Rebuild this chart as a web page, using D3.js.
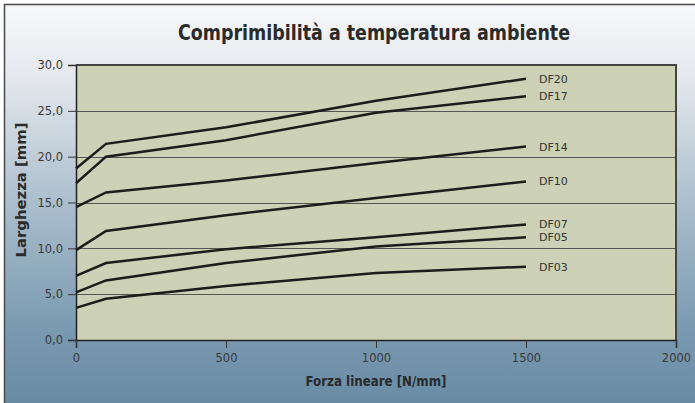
<!DOCTYPE html>
<html><head><meta charset="utf-8">
<script src="https://cdn.jsdelivr.net/npm/d3@7"></script>
<style>html,body{margin:0;padding:0;background:#fff;}svg{display:block;}</style>
</head><body>
<svg id="chart" width="695" height="403"></svg>
<script>
const forces = [0, 100, 500, 1000, 1500];
const seriesNames = ["DF20", "DF17", "DF14", "DF10", "DF07", "DF05", "DF03"];
const df20 = [18.7, 21.4, 23.2, 26.1, 28.5];
const df17 = [17.1, 20.0, 21.8, 24.8, 26.6];
const df14 = [14.5, 16.1, 17.4, 19.3, 21.1];
const df10 = [9.8, 11.9, 13.6, 15.5, 17.3];
const df07 = [7.0, 8.4, 9.9, 11.2, 12.6];
const df05 = [5.2, 6.5, 8.4, 10.2, 11.2];
const df03 = [3.5, 4.5, 5.9, 7.3, 8.0];
const xTicks = [0, 500, 1000, 1500, 2000];
const yTicks = [0, 5, 10, 15, 20, 25, 30];
const titleText = "Comprimibilità a temperatura ambiente";
const xTitle = "Forza lineare [N/mm]";
const yTitle = "Larghezza [mm]";

const series = [df20, df17, df14, df10, df07, df05, df03].map((v, i) => ({name: seriesNames[i], values: v}));

const svg = d3.select("#chart");
const defs = svg.append("defs");
const grad = defs.append("linearGradient").attr("id", "bg").attr("x1", 0).attr("y1", 0).attr("x2", 0).attr("y2", 1);
[["0%", "#f7f8fa"], ["18%", "#e4e8ed"], ["50%", "#a8bccb"], ["80%", "#7999b0"], ["100%", "#6689a2"]].forEach(s => grad.append("stop").attr("offset", s[0]).attr("stop-color", s[1]));

svg.append("rect").attr("x", 4.5).attr("y", 4.5).attr("width", 700).attr("height", 410)
  .attr("fill", "url(#bg)").attr("stroke", "#4a4a4a").attr("stroke-width", 1.5);

const mLeft = 76, mRight = 676, mTop = 65, mBottom = 340;
const x = d3.scaleLinear().domain([0, 2000]).range([mLeft, mRight]);
const y = d3.scaleLinear().domain([0, 30]).range([mBottom, mTop]);

svg.append("rect").attr("x", mLeft).attr("y", mTop).attr("width", mRight - mLeft).attr("height", mBottom - mTop).attr("fill", "#cdd1b5");

// gridlines
svg.append("g").selectAll("line").data(yTicks.filter(d => d > 0 && d < 30)).join("line")
  .attr("x1", mLeft).attr("x2", mRight).attr("y1", d => Math.round(y(d)) + 0.5).attr("y2", d => Math.round(y(d)) + 0.5)
  .attr("stroke", "#555").attr("stroke-width", 1);

// plot border top/right
svg.append("path").attr("d", `M${mLeft},${mTop} H${mRight} V${mBottom}`).attr("fill", "none").attr("stroke", "#444").attr("stroke-width", 2);

const tickFont = "'DejaVu Sans', sans-serif";
const yAxis = d3.axisLeft(y).tickValues(yTicks).tickSize(8).tickPadding(5).tickFormat(d => d3.format(".1f")(d).replace(".", ","));
const gy = svg.append("g").attr("transform", `translate(${mLeft},0)`).call(yAxis);
const xAxis = d3.axisBottom(x).tickValues(xTicks).tickSize(8).tickPadding(6).tickFormat(d3.format("d"));
const gx = svg.append("g").attr("transform", `translate(0,${mBottom})`).call(xAxis);
[gx, gy].forEach(g => {
  g.selectAll(".domain").attr("stroke", "#222").attr("stroke-width", 1.5);
  g.selectAll(".tick line").attr("stroke", "#333").attr("stroke-width", 1);
  g.selectAll("text").attr("font-family", tickFont).attr("font-size", 11.5).attr("fill", "#3a3a3a");
});

const line = d3.line().x((d, i) => x(forces[i])).y(d => y(d));
svg.append("g").selectAll("path").data(series).join("path")
  .attr("d", d => line(d.values)).attr("fill", "none").attr("stroke", "#1c1c1c").attr("stroke-width", 2.5).attr("stroke-linejoin", "miter");

svg.append("g").selectAll("text").data(series).join("text")
  .attr("x", d => x(forces[forces.length - 1]) + 13)
  .attr("y", d => y(d.values[d.values.length - 1]))
  .attr("dy", "0.36em").attr("font-family", tickFont).attr("font-size", 11).attr("fill", "#333")
  .text(d => d.name);

const boldFont = "'DejaVu Sans Condensed', 'Roboto Condensed', sans-serif";
svg.append("text").attr("x", 374).attr("y", 40).attr("text-anchor", "middle")
  .attr("font-family", boldFont).attr("font-weight", "bold").attr("font-size", 22).attr("fill", "#2a2a2a")
  .attr("textLength", 392).attr("lengthAdjust", "spacingAndGlyphs")
  .text(titleText);
svg.append("text").attr("x", 376).attr("y", 386).attr("text-anchor", "middle")
  .attr("font-family", boldFont).attr("font-weight", "bold").attr("font-size", 14).attr("fill", "#2a2a2a")
  .attr("textLength", 141).attr("lengthAdjust", "spacingAndGlyphs")
  .text(xTitle);
svg.append("text").attr("transform", "translate(26,190) rotate(-90)").attr("text-anchor", "middle")
  .attr("font-family", boldFont).attr("font-weight", "bold").attr("font-size", 14).attr("fill", "#2a2a2a")
  .attr("textLength", 135).attr("lengthAdjust", "spacingAndGlyphs")
  .text(yTitle);
</script>
</body></html>
